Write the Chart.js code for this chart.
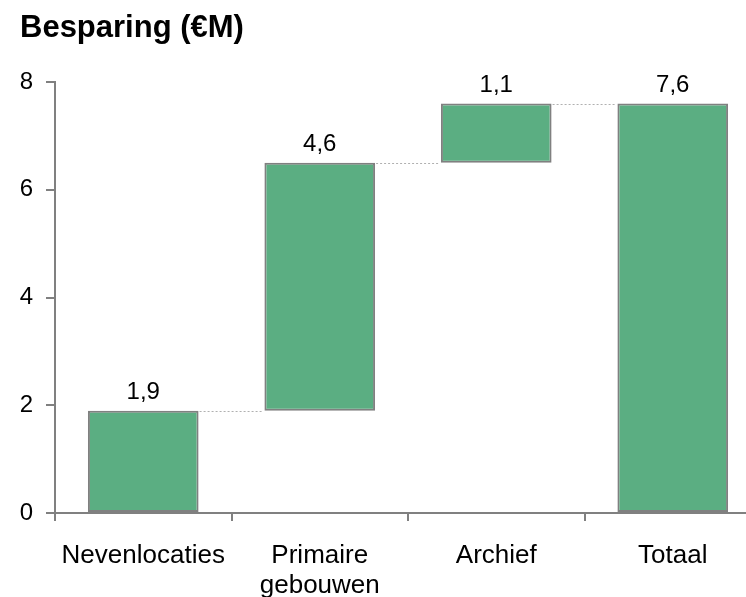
<!DOCTYPE html>
<html>
<head>
<meta charset="utf-8">
<script src="https://cdn.jsdelivr.net/npm/chart.js@4"></script>
<style>
  html, body { margin: 0; padding: 0; background: #fff; overflow: hidden; width: 746px; height: 597px; }
  #wrap { position: absolute; left: 0; top: 0; width: 762px; height: 613px; }
</style>
</head>
<body>
<div id="wrap"><canvas id="c"></canvas></div>
<script>
const titleText = 'Besparing (€M)';
const categories = ['Nevenlocaties', ['Primaire', 'gebouwen'], 'Archief', 'Totaal'];
const steps = [1.9, 4.6, 1.1];
const total = 7.6;
const yTicks = [0, 2, 4, 6, 8];

// floating ranges for the waterfall
const ranges = [];
let run = 0;
for (const s of steps) { ranges.push([run, +(run + s).toFixed(2)]); run = +(run + s).toFixed(2); }
ranges.push([0, total]);
const labelValues = [...steps, total];

const FONT = "'Liberation Sans', Arial, sans-serif";
const GREY = '#808080';

const titlePlugin = {
  id: 'titleText',
  afterDraw(chart) {
    const ctx = chart.ctx;
    ctx.save();
    ctx.font = 'bold 31px ' + FONT;
    ctx.fillStyle = '#000';
    ctx.textAlign = 'left';
    ctx.textBaseline = 'alphabetic';
    ctx.fillText(titleText, 20, 37);
    ctx.restore();
  }
};

const waterfallPlugin = {
  id: 'waterfallExtras',
  afterDatasetsDraw(chart) {
    const ctx = chart.ctx;
    const meta = chart.getDatasetMeta(0);
    const y = chart.scales.y;
    ctx.save();
    // connectors
    ctx.strokeStyle = '#b0b0b0';
    ctx.lineWidth = 1;
    ctx.setLineDash([2, 2]);
    for (let i = 0; i < ranges.length - 1; i++) {
      const a = meta.data[i], b = meta.data[i + 1];
      const py = Math.round(y.getPixelForValue(ranges[i][1])) + 0.5;
      ctx.beginPath();
      ctx.moveTo(a.x + a.width / 2 + 1, py);
      ctx.lineTo(b.x - b.width / 2 - 1, py);
      ctx.stroke();
    }
    ctx.setLineDash([]);
    // value labels
    ctx.font = '24px ' + FONT;
    ctx.fillStyle = '#000';
    ctx.textAlign = 'center';
    ctx.textBaseline = 'alphabetic';
    meta.data.forEach((bar, i) => {
      const top = y.getPixelForValue(ranges[i][1]);
      ctx.fillText(labelValues[i].toFixed(1).replace('.', ','), bar.x, top - 12);
    });
    ctx.restore();
  }
};

new Chart(document.getElementById('c'), {
  type: 'bar',
  data: {
    labels: categories,
    datasets: [{
      data: ranges,
      backgroundColor: '#5BAE82',
      borderColor: GREY,
      borderWidth: 2,
      borderSkipped: false,
      categoryPercentage: 1,
      barPercentage: 0.627
    }]
  },
  options: {
    responsive: true,
    maintainAspectRatio: false,
    animation: false,
    layout: { padding: { top: 82, left: 20, right: 1, bottom: 0 } },
    plugins: {
      legend: { display: false },
      title: { display: false },
      tooltip: { enabled: false }
    },
    scales: {
      x: {
        grid: { display: true, drawOnChartArea: false, drawTicks: true, tickLength: 8, color: GREY, lineWidth: 2, offset: true },
        border: { display: true, color: GREY, width: 2 },
        ticks: { color: '#000', font: { family: FONT, size: 26, lineHeight: 1.15 }, padding: 20, maxRotation: 0, autoSkip: false },
        afterFit(scale) { scale.height = 100; }
      },
      y: {
        min: 0, max: 8,
        afterBuildTicks(scale) { scale.ticks = yTicks.map(v => ({ value: v })); },
        grid: { display: true, drawOnChartArea: false, drawTicks: true, tickLength: 9, color: GREY, lineWidth: 2 },
        border: { display: true, color: GREY, width: 2 },
        ticks: { color: '#000', font: { family: FONT, size: 24 }, padding: 13 },
        afterFit(scale) { scale.width = 35; }
      }
    }
  },
  plugins: [titlePlugin, waterfallPlugin]
});
</script>
</body>
</html>
